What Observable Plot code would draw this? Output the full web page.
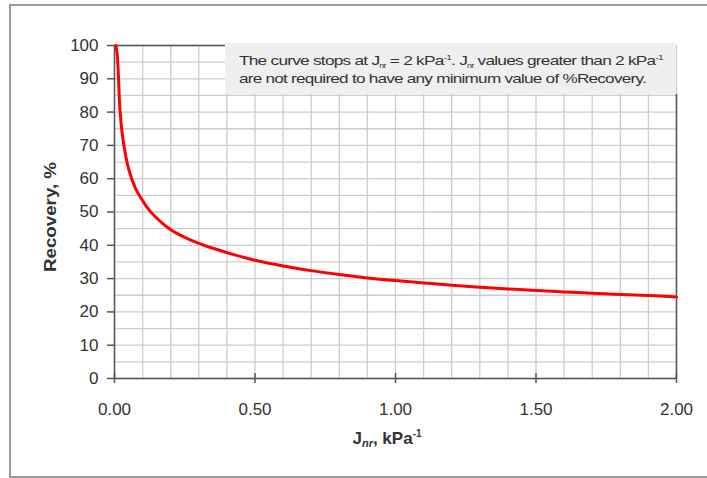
<!DOCTYPE html>
<html>
<head>
<meta charset="utf-8">
<script src="https://cdn.jsdelivr.net/npm/d3@7"></script>
<script src="https://cdn.jsdelivr.net/npm/@observablehq/plot@0.6"></script>
<style>
  body { margin: 0; background: #fff; font-family: "Liberation Sans", Arial, sans-serif; }
  #wrap { position: relative; width: 707px; height: 478px; overflow: hidden; }
  #frame { position: absolute; left: 9px; top: 4px; width: 760px; height: 470px;
           border-left: 2px solid #9a9a9a; border-top: 2px solid #9a9a9a; border-bottom: 2px solid #9a9a9a; }
  #wrap svg { position: absolute; left: 0; top: 0; }
</style>
</head>
<body>
<div id="wrap"><div id="frame"></div></div>
<script>
// Data
const jnr      = [0.005, 0.01, 0.02, 0.03, 0.05, 0.075, 0.1, 0.125, 0.15, 0.175, 0.2, 0.25, 0.3, 0.35, 0.4, 0.45, 0.5, 0.6, 0.7, 0.8, 0.9, 1.0, 1.1, 1.2, 1.3, 1.4, 1.5, 1.6, 1.7, 1.8, 1.9, 2.0];
const recovery = [100, 97, 80, 72, 63, 57, 53.4, 50.4, 48.2, 46.3, 44.7, 42.4, 40.6, 39.1, 37.8, 36.6, 35.5, 33.8, 32.4, 31.2, 30.2, 29.4, 28.7, 28.0, 27.4, 26.9, 26.4, 26.0, 25.6, 25.2, 24.9, 24.5];

// Axis ticks and grid
const xTicks = [0, 0.5, 1.0, 1.5, 2.0];
const yTicks = [0, 10, 20, 30, 40, 50, 60, 70, 80, 90, 100];
const xGrid = d3.range(0, 21).map(i => i / 10);
const yGrid = d3.range(0, 21).map(i => i * 5);

// Note box extent (data units)
const noteX = [0.395, 2.0];
const noteY = [85.3, 100.6];

const data = jnr.map((j, i) => ({ j, r: recovery[i] }));

const plot = Plot.plot({
  width: 707,
  height: 478,
  marginLeft: 114,
  marginRight: 31,
  marginTop: 45,
  marginBottom: 100,
  style: { fontFamily: "'Liberation Sans', Arial, sans-serif", color: "#333", background: "transparent" },
  x: { domain: [0, 2] },
  y: { domain: [0, 100] },
  marks: [
    Plot.ruleX(xGrid, { stroke: "#cccccc", strokeWidth: 1.3 }),
    Plot.ruleY(yGrid, { stroke: "#cccccc", strokeWidth: 1.3 }),
    Plot.rect([0], { x1: noteX[0], x2: noteX[1], y1: noteY[0], y2: noteY[1], fill: "#efefef", clip: false }),
    Plot.ruleY([100], { x1: 0, x2: noteX[0], stroke: "#555", strokeWidth: 1.5 }),
    Plot.ruleX([2], { y1: 0, y2: noteY[0], stroke: "#555", strokeWidth: 1.5 }),
    Plot.ruleX(xTicks, { y1: -1.5, y2: 1.5, stroke: "#555", strokeWidth: 1.5, clip: false }),
    Plot.axisY({ ticks: yTicks, tickSize: 7, tickPadding: 9, fontSize: 17, label: null, stroke: "#555", strokeWidth: 1.5 }),
    Plot.axisX({ ticks: xTicks, tickSize: 0, tickPadding: 24, fontSize: 17, label: null, tickFormat: d3.format(".2f") }),
    Plot.ruleX([0], { stroke: "#555", strokeWidth: 1.5 }),
    Plot.ruleY([0], { stroke: "#555", strokeWidth: 1.5 }),
    Plot.line(data, { x: "j", y: "r", stroke: "#ff0000", strokeWidth: 3, curve: "catmull-rom" })
  ]
});

document.getElementById("wrap").appendChild(plot);

const svg = d3.select(plot);
const sx = plot.scale("x"), sy = plot.scale("y");

// Y axis label
svg.append("text")
  .attr("transform", `translate(56,217) rotate(-90)`)
  .attr("text-anchor", "middle")
  .attr("font-size", 17).attr("font-weight", "bold").attr("fill", "#333")
  .attr("textLength", 110).attr("lengthAdjust", "spacingAndGlyphs")
  .text("Recovery, %");

// X axis label
const xl = svg.append("text")
  .attr("x", 387)
  .attr("y", 444)
  .attr("text-anchor", "middle")
  .attr("font-size", 17).attr("font-weight", "bold").attr("fill", "#333");
xl.append("tspan").text("J");
xl.append("tspan").attr("font-size", 11).attr("font-style", "italic").attr("dy", 3).text("nr");
xl.append("tspan").attr("dy", -3).text(", kPa");
xl.append("tspan").attr("font-size", 10).attr("dy", -7).text("-1");

// Note text
const nx = sx.apply(noteX[0]) + 14;
const t1 = svg.append("text").attr("x", nx).attr("y", 65).attr("text-anchor", "start")
  .attr("font-size", 13.5).attr("fill", "#333").attr("letter-spacing", -0.6)
  .attr("textLength", 424).attr("lengthAdjust", "spacingAndGlyphs");
t1.append("tspan").text("The curve stops at J");
t1.append("tspan").attr("font-size", 7).attr("dy", 3).text("nr");
t1.append("tspan").attr("dy", -3).text(" = 2 kPa");
t1.append("tspan").attr("font-size", 8).attr("dy", -5).text("-1");
t1.append("tspan").attr("dy", 5).text(". J");
t1.append("tspan").attr("font-size", 7).attr("dy", 3).text("nr");
t1.append("tspan").attr("dy", -3).text(" values greater than 2 kPa");
t1.append("tspan").attr("font-size", 8).attr("dy", -5).text("-1");

svg.append("text").attr("x", nx).attr("y", 83).attr("text-anchor", "start")
  .attr("font-size", 13.5).attr("fill", "#333").attr("letter-spacing", -0.6)
  .attr("textLength", 407).attr("lengthAdjust", "spacingAndGlyphs")
  .text("are not required to have any minimum value of %Recovery.");
</script>
</body>
</html>
